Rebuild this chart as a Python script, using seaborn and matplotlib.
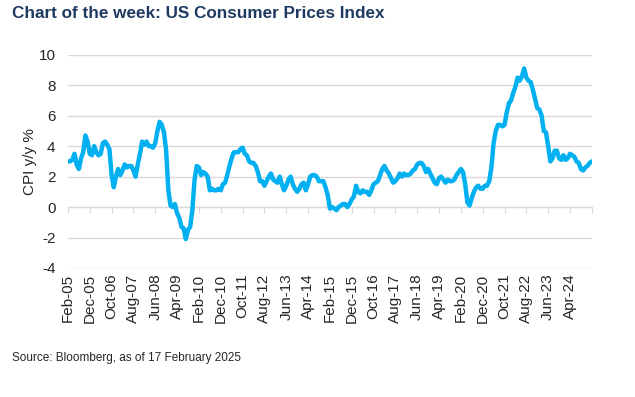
import matplotlib
matplotlib.use("Agg")
import matplotlib.pyplot as plt
import seaborn as sns
import pandas as pd

# US CPI y/y %, monthly readings plotted from Feb-05 (Jan-05 print) to Feb-25 (Jan-25 print)
cpi_2005 = [3.0, 3.0, 3.1, 3.5, 2.8, 2.5, 3.2, 3.6, 4.7, 4.3, 3.5, 3.4]
cpi_2006 = [4.0, 3.6, 3.4, 3.5, 4.2, 4.3, 4.1, 3.8, 2.1, 1.3, 2.0, 2.5]
cpi_2007 = [2.1, 2.4, 2.8, 2.6, 2.7, 2.7, 2.4, 2.0, 2.8, 3.5, 4.3, 4.1]
cpi_2008 = [4.3, 4.0, 4.0, 3.9, 4.2, 5.0, 5.6, 5.4, 4.9, 3.7, 1.1, 0.1]
cpi_2009 = [0.0, 0.2, -0.4, -0.7, -1.3, -1.4, -2.1, -1.5, -1.3, -0.2, 1.8, 2.7]
cpi_2010 = [2.6, 2.1, 2.3, 2.2, 2.0, 1.1, 1.2, 1.1, 1.1, 1.2, 1.1, 1.5]
cpi_2011 = [1.6, 2.1, 2.7, 3.2, 3.6, 3.6, 3.6, 3.8, 3.9, 3.5, 3.4, 3.0]
cpi_2012 = [2.9, 2.9, 2.7, 2.3, 1.7, 1.7, 1.4, 1.7, 2.0, 2.2, 1.8, 1.7]
cpi_2013 = [1.6, 2.0, 1.5, 1.1, 1.4, 1.8, 2.0, 1.5, 1.2, 1.0, 1.2, 1.5]
cpi_2014 = [1.6, 1.1, 1.5, 2.0, 2.1, 2.1, 2.0, 1.7, 1.7, 1.7, 1.3, 0.8]
cpi_2015 = [-0.1, 0.0, -0.1, -0.2, 0.0, 0.1, 0.2, 0.2, 0.0, 0.2, 0.5, 0.7]
cpi_2016 = [1.4, 1.0, 0.9, 1.1, 1.0, 1.0, 0.8, 1.1, 1.5, 1.6, 1.7, 2.1]
cpi_2017 = [2.5, 2.7, 2.4, 2.2, 1.9, 1.6, 1.7, 1.9, 2.2, 2.0, 2.2, 2.1]
cpi_2018 = [2.1, 2.2, 2.4, 2.5, 2.8, 2.9, 2.9, 2.7, 2.3, 2.5, 2.2, 1.9]
cpi_2019 = [1.6, 1.5, 1.9, 2.0, 1.8, 1.6, 1.8, 1.7, 1.7, 1.8, 2.1, 2.3]
cpi_2020 = [2.5, 2.3, 1.5, 0.3, 0.1, 0.6, 1.0, 1.3, 1.4, 1.2, 1.2, 1.4]
cpi_2021 = [1.4, 1.7, 2.6, 4.2, 5.0, 5.4, 5.4, 5.3, 5.4, 6.2, 6.8, 7.0]
cpi_2022 = [7.5, 7.9, 8.5, 8.3, 8.6, 9.1, 8.5, 8.3, 8.2, 7.7, 7.1, 6.5]
cpi_2023 = [6.4, 6.0, 5.0, 4.9, 4.0, 3.0, 3.2, 3.7, 3.7, 3.2, 3.1, 3.4]
cpi_2024 = [3.1, 3.2, 3.5, 3.4, 3.3, 3.0, 2.9, 2.5, 2.4, 2.6, 2.7, 2.9]
cpi_2025 = [3.0]

cpi_yoy = (cpi_2005 + cpi_2006 + cpi_2007 + cpi_2008 + cpi_2009 + cpi_2010
           + cpi_2011 + cpi_2012 + cpi_2013 + cpi_2014 + cpi_2015 + cpi_2016
           + cpi_2017 + cpi_2018 + cpi_2019 + cpi_2020 + cpi_2021 + cpi_2022
           + cpi_2023 + cpi_2024 + cpi_2025)

tick_labels = ["Feb-05", "Dec-05", "Oct-06", "Aug-07", "Jun-08", "Apr-09",
               "Feb-10", "Dec-10", "Oct-11", "Aug-12", "Jun-13", "Apr-14",
               "Feb-15", "Dec-15", "Oct-16", "Aug-17", "Jun-18", "Apr-19",
               "Feb-20", "Dec-20", "Oct-21", "Aug-22", "Jun-23", "Apr-24", ""]

sns.set_style("white")
plt.rcParams['font.family'] = ['Liberation Sans', 'DejaVu Sans']
plt.rcParams['axes.unicode_minus'] = False

df = pd.DataFrame({"month": range(len(cpi_yoy)), "cpi": cpi_yoy})

fig = plt.figure(figsize=(6.35, 3.97), dpi=100)
ax = fig.add_axes([0.107, 0.325, 0.825, 0.537])

sns.lineplot(data=df, x="month", y="cpi", color="#00b0f0", linewidth=3.2, ax=ax)

ticks = list(range(0, 241, 10))
ax.set_xlim(0, 240)
ax.set_ylim(-4, 10)
ax.set_yticks(range(-4, 11, 2))
ax.set_xticks(ticks)
ax.set_xticklabels(tick_labels, rotation=90, fontsize=11)
ax.tick_params(axis='x', length=0, pad=4)
ax.tick_params(axis='y', length=0, labelsize=11, pad=9)
for s in ax.spines.values():
    s.set_visible(False)
ax.grid(axis='y', color='#d9d9d9', linewidth=1)
ax.set_axisbelow(True)
ax.set_xlabel("")
ax.set_ylabel("CPI y/y %", fontsize=11, labelpad=1)

# zero line with tick marks, like the excel category axis
sec = ax.secondary_xaxis(4 / 14)
sec.set_xticks(ticks)
sec.tick_params(bottom=True, length=4, color='#d9d9d9', labelbottom=False, direction='out')
sec.spines['bottom'].set_color('#d9d9d9')

fig.text(0.019, 0.965, "Chart of the week: US Consumer Prices Index",
         fontsize=12.3, fontweight='bold', color='#1f3a60', va='center')
fig.text(0.019, 0.098, "Source: Bloomberg, as of 17 February 2025",
         fontsize=8.5, va='center')

fig.savefig("out.png", dpi=100)
